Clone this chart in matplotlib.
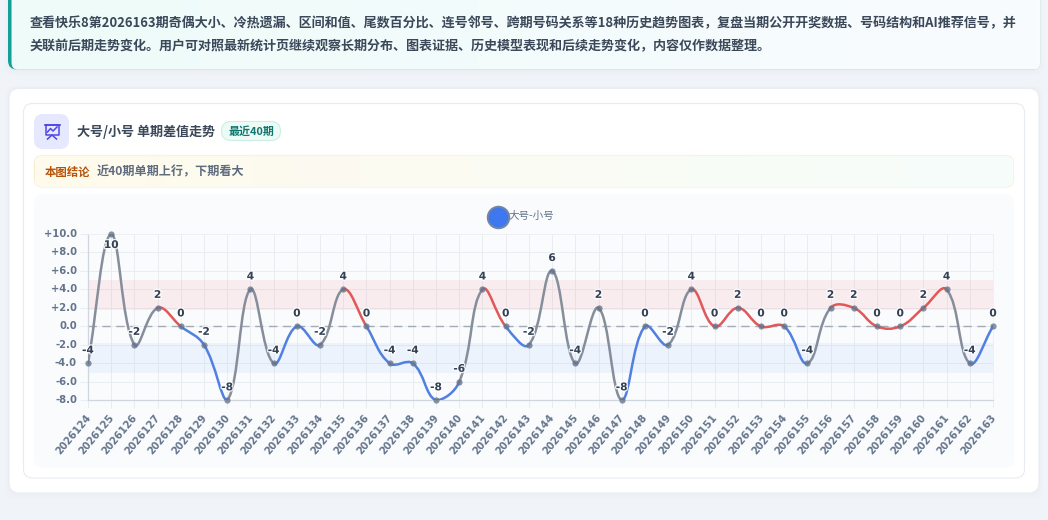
import numpy as np
import matplotlib
matplotlib.use('Agg')
import matplotlib.pyplot as plt
import matplotlib.colors as mcolors
import matplotlib.patheffects as pe
from matplotlib.patches import FancyBboxPatch, PathPatch
from matplotlib.path import Path
from matplotlib.transforms import ScaledTranslation

plt.rcParams['font.family'] = ['Noto Sans CJK SC', 'DejaVu Sans']

# data
periods = [str(p) for p in range(2026124, 2026164)]
diffs = [-4, 10, -2, 2, 0, -2, -8, 4, -4, 0,
         -2, 4, 0, -4, -4, -8, -6, 4, 0, -2,
         6, -4, 2, -8, 0, -2, 4, 0, 2, 0,
         0, -4, 2, 2, 0, 0, 2, 4, -4, 0]
y_ticks = [10, 8, 6, 4, 2, 0, -2, -4, -6, -8]
y_tick_labels = ['+10.0', '+8.0', '+6.0', '+4.0', '+2.0', '0.0', '-2.0', '-4.0', '-6.0', '-8.0']
high_band = (1.8, 5.0)
low_band = (-5.0, -1.8)

intro_1 = '查看快乐8第2026163期奇偶大小、冷热遗漏、区间和值、尾数百分比、连号邻号、跨期号码关系等18种历史趋势图表，复盘当期公开开奖数据、号码结构和AI推荐信号，并'
intro_2 = '关联前后期走势变化。用户可对照最新统计页继续观察长期分布、图表证据、历史模型表现和后续走势变化，内容仅作数据整理。'
card_title = '大号/小号 单期差值走势'
badge = '最近40期'
verdict_label = '本图结论'
verdict = '近40期单期上行，下期看大'
legend_label = '大号-小号'

RED = '#e05858'
BLUE = '#4f80e2'
GRAY = '#868e9b'
W, H = 1048, 520

fig = plt.figure(figsize=(W / 100, H / 100), dpi=100, facecolor='#f0f3f7')

# page layer, in pixels
bg = fig.add_axes([0, 0, 1, 1])
bg.set_xlim(0, W)
bg.set_ylim(H, 0)
bg.axis('off')


def box(x0, y0, x1, y1, r, fc='white', ec='none', lw=0.8, z=1, alpha=None):
    p = FancyBboxPatch((x0, y0), x1 - x0, y1 - y0, boxstyle='round,pad=0,rounding_size=%s' % r,
                       fc=fc, ec=ec, lw=lw, zorder=z, alpha=alpha)
    bg.add_patch(p)
    return p


def grad(patch, c0, c1, z):
    cm = mcolors.LinearSegmentedColormap.from_list('g', [c0, c1])
    x0, y0 = patch.get_x(), patch.get_y()
    im = bg.imshow(np.linspace(0, 1, 256).reshape(1, -1), cmap=cm, aspect='auto', zorder=z,
                   extent=(x0, x0 + patch.get_width(), y0 + patch.get_height(), y0))
    im.set_clip_path(patch)
    bg.set_xlim(0, W)
    bg.set_ylim(H, 0)


# soft shadows
for i in range(5):
    box(8 - i, -10, 1040 + i, 70 + i * 1.5, 10, fc='#dfe5ec', alpha=0.06, z=0.5)
    box(9 - i, 88 - i * 0.5, 1039 + i, 493 + i * 1.5, 10, fc='#dfe5ec', alpha=0.06, z=0.5)

# intro card
box(8, -10, 1040, 69.5, 9, fc='#14a098', z=1)
top = box(12, -10, 1040, 69.5, 7, fc='white', ec='#d3ebe8', z=2)
grad(top, '#eefbf9', '#f9fcff', 2.1)
bg.text(30, 23, intro_1, fontsize=9.4, fontweight='bold', color='#3b4859', va='center', zorder=5)
bg.text(30, 46, intro_2, fontsize=9.4, fontweight='bold', color='#3b4859', va='center', zorder=5)

# outer cards
box(9, 88.5, 1039, 493, 10, ec='#e9edf2', z=1)
box(23.5, 103.5, 1024.5, 478, 9, ec='#e8ecf1', z=1.5)

# heading
box(34, 114, 69, 149, 9, fc='#e6e9fd', z=2)
icon = '#4f46e5'
bg.plot([44.5, 60], [124.5, 124.5], color=icon, lw=1.2, zorder=3)
bg.plot([45.5, 45.5, 59, 59, 45.5], [124.5, 135, 135, 124.5, 124.5], color=icon, lw=1.1, zorder=3)
bg.plot([47.5, 50.5, 53, 57], [132, 128.5, 131, 127], color=icon, lw=1.1, zorder=3)
bg.plot([47.5, 52, 56.5], [139, 135, 139], color=icon, lw=1.1, zorder=3)
bg.text(77, 132, card_title, fontsize=9.4, fontweight='bold', color='#3b4859', va='center', zorder=3)
box(221.5, 121.5, 280.5, 140.5, 9.5, fc='#edfbf7', ec='#cdeee6', z=2)
bg.text(251, 131.5, badge, fontsize=7.9, fontweight='bold', color='#0f766e', ha='center', va='center', zorder=3)

# verdict strip
vb = box(34.5, 155.5, 1013.5, 187, 8, fc='white', ec='#f9ebcd', z=2)
grad(vb, '#fffaec', '#f6fdfb', 2.1)
bg.text(45, 172, verdict_label, fontsize=8.2, fontweight='bold', color='#b45309', va='center', zorder=3)
bg.text(97, 172, verdict, fontsize=8.7, fontweight='bold', color='#5f6c7e', va='center', zorder=3)

# chart panel and legend
box(34, 194, 1014, 468, 9, fc='#f9fbfd', z=2)
bg.scatter([498], [217], s=240, fc='#3f78ee', ec='#7486a3', lw=1.4, zorder=3)
bg.text(509, 216, legend_label, fontsize=7.6, color='#64748b', va='center', zorder=3)

# chart
ax = fig.add_axes([88 / W, 1 - 400.3 / H, (993 - 88) / W, (400.3 - 234) / H])
ax.patch.set_alpha(0)
x = np.arange(len(diffs))
y = np.array(diffs, dtype=float)
ax.set_xlim(0, len(diffs) - 1)
ax.set_ylim(-8, 10)
for s in ['top', 'right']:
    ax.spines[s].set_color('#edf0f4')
    ax.spines[s].set_linewidth(0.7)
for s in ['left', 'bottom']:
    ax.spines[s].set_color('#d0d6df')
    ax.spines[s].set_linewidth(0.9)

ax.axhspan(*high_band, color='#ef4444', alpha=0.08, lw=0, zorder=1)
ax.axhspan(*low_band, color='#3b82f6', alpha=0.06, lw=0, zorder=1)
ax.grid(True, color='#e9edf2', lw=0.7, zorder=0)
ax.set_axisbelow(True)
ax.axhline(0, color='#a3abb5', lw=1, dashes=(6, 4), zorder=2)

ax.set_xticks(x)
ax.set_xticklabels(periods, rotation=50, ha='right', va='top', rotation_mode='anchor',
                   family='DejaVu Sans', fontweight='bold', fontsize=7.2, color='#64748b')
ax.set_yticks(y_ticks)
ax.set_yticklabels(y_tick_labels, family='DejaVu Sans', fontweight='bold', fontsize=7.2, color='#64748b')
ax.tick_params(axis='both', length=5.5, width=0.7, color='#e9edf2', pad=2.5)
ax.tick_params(axis='x', pad=5)

# nudge tick labels onto the reference positions
shift_x = ScaledTranslation(-3 / 100, 2.5 / 100, fig.dpi_scale_trans)
shift_y = ScaledTranslation(0, 1 / 100, fig.dpi_scale_trans)
for t in ax.get_xticklabels():
    t.set_transform(t.get_transform() + shift_x)
for t in ax.get_yticklabels():
    t.set_transform(t.get_transform() + shift_y)

# bezier control points worked out in pixel space, tension 0.4
sx = (993 - 88) / (len(diffs) - 1)
sy = (400.3 - 234) / 18
tension = 0.4
cp_in = np.zeros((len(x), 2))
cp_out = np.zeros((len(x), 2))
for i in range(len(x)):
    p1 = np.array([x[i], y[i]])
    p0 = np.array([x[max(i - 1, 0)], y[max(i - 1, 0)]])
    p2 = np.array([x[min(i + 1, len(x) - 1)], y[min(i + 1, len(x) - 1)]])
    d01 = np.hypot((p1[0] - p0[0]) * sx, (p1[1] - p0[1]) * sy)
    d12 = np.hypot((p2[0] - p1[0]) * sx, (p2[1] - p1[1]) * sy)
    total = d01 + d12
    cp_in[i] = p1 - tension * d01 / total * (p2 - p0)
    cp_out[i] = p1 + tension * d12 / total * (p2 - p0)
cp_in[:, 1] = np.clip(cp_in[:, 1], -8, 10)
cp_out[:, 1] = np.clip(cp_out[:, 1], -8, 10)

for i in range(len(x) - 1):
    a, b = y[i], y[i + 1]
    if a * b < 0:
        col = GRAY
    elif a < 0 or b < 0:
        col = BLUE
    else:
        col = RED
    seg = Path([(x[i], y[i]), cp_out[i], cp_in[i + 1], (x[i + 1], y[i + 1])],
               [Path.MOVETO, Path.CURVE4, Path.CURVE4, Path.CURVE4])
    ax.add_patch(PathPatch(seg, fc='none', ec=col, lw=1.8, capstyle='round', zorder=3))

ax.scatter(x, y, s=20, c='#64748b', alpha=0.78, lw=0, clip_on=False, zorder=4)

halo = [pe.withStroke(linewidth=2, foreground='white', alpha=0.8)]
for xi, yi in zip(x, diffs):
    # the top value has no room above it, so it sits under the point
    off = -11 if yi == 10 else 13
    ax.annotate(str(yi), (xi, yi), xytext=(0, off * 0.72), textcoords='offset points',
                ha='center', va='center', family='DejaVu Sans', fontweight='bold', fontsize=7.6,
                color='#334155', path_effects=halo, zorder=5, annotation_clip=False)

fig.savefig('out.png', dpi=100, facecolor=fig.get_facecolor())
